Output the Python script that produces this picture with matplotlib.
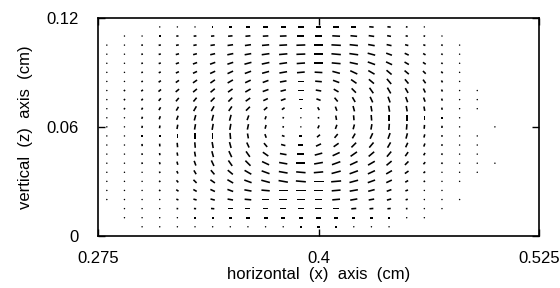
import matplotlib
matplotlib.use("Agg")
import matplotlib.pyplot as plt
import numpy as np

plt.rcParams['font.family'] = ['Liberation Sans', 'DejaVu Sans']

NA = np.nan

# grid positions (cm)
x_cols = [0.28, 0.29, 0.30, 0.31, 0.32, 0.33, 0.34, 0.35, 0.36, 0.37, 0.38, 0.39,
          0.40, 0.41, 0.42, 0.43, 0.44, 0.45, 0.46, 0.47, 0.48, 0.49, 0.50]
z_rows = [0.115, 0.110, 0.105, 0.100, 0.095, 0.090, 0.085, 0.080, 0.075, 0.070, 0.065, 0.060,
          0.055, 0.050, 0.045, 0.040, 0.035, 0.030, 0.025, 0.020, 0.015, 0.010, 0.005]

# direction of each vector on screen (deg, 0 = right, 90 = up), one row per z
angle_rows = [
    [NA, NA, NA, 0, 0, 0, 0, 0, 0, 0, 0, 0, 0, 0, 0, -5, -5, -10, -10, NA, NA, NA, NA],
    [NA, 0, 0, 0, 5, 5, 5, 5, 5, 3, 2, 0, 0, -3, -5, -8, -10, -10, -15, -20, NA, NA, NA],
    [10, 10, 10, 10, 10, 10, 8, 8, 8, 5, 3, 2, 0, -3, -6, -10, -12, -15, -20, -25, -30, NA, NA],
    [15, 15, 15, 15, 15, 15, 13, 12, 10, 8, 5, 2, 0, -5, -8, -15, -20, -25, -30, -35, -40, NA, NA],
    [20, 20, 20, 20, 20, 20, 20, 18, 15, 12, 8, 4, 0, -5, -12, -20, -25, -30, -35, -40, -45, NA, NA],
    [25, 25, 25, 25, 25, 25, 25, 25, 20, 15, 10, 5, -3, -15, -25, -30, -40, -40, -45, -50, -55, NA, NA],
    [35, 35, 35, 35, 35, 35, 35, 30, 25, 20, 10, 0, -5, -20, -35, -40, -50, -50, -55, -60, -60, NA, NA],
    [40, 40, 40, 40, 40, 40, 40, 35, 30, 20, 15, 0, -10, -30, -45, -55, -60, -60, -65, -65, -65, -70, NA],
    [50, 50, 50, 50, 50, 50, 45, 45, 35, 25, 20, 0, -20, -50, -60, -65, -70, -70, -70, -70, -75, -75, NA],
    [60, 60, 60, 60, 60, 60, 60, 55, 45, 40, 35, 0, -60, -70, -75, -80, -80, -80, -80, -80, -80, -80, NA],
    [70, 70, 70, 70, 70, 75, 75, 75, 70, 70, 60, 0, -80, -80, -85, -85, -90, -90, -90, -90, -90, NA, NA],
    [80, 80, 80, 80, 80, 80, 80, 80, 78, 75, 80, 200, 245, 250, 255, 260, 265, 265, 265, 265, 265, NA, 265],
    [90, 90, 90, 90, 90, 90, 90, 95, 100, 110, 160, 180, 220, 230, 240, 245, 250, 255, 255, 260, 260, 260, NA],
    [95, 95, 95, 95, 95, 95, 100, 105, 115, 130, 165, 180, 205, 215, 225, 230, 240, 245, 250, 250, 250, 250, NA],
    [100, 100, 100, 100, 100, 100, 105, 115, 125, 145, 170, 180, 195, 205, 215, 220, 230, 235, 240, 240, 240, 240, NA],
    [105, 105, 105, 105, 105, 110, 115, 125, 135, 155, 170, 180, 190, 200, 205, 210, 220, 225, 230, 230, 230, 230, 230],
    [115, 115, 115, 115, 115, 120, 130, 140, 150, 160, 170, 175, 185, 195, 200, 205, 210, 215, 220, 220, 220, 220, NA],
    [130, 130, 130, 130, 130, 135, 145, 150, 160, 165, 170, 175, 180, 185, 195, 200, 205, 210, 210, 210, 210, NA, NA],
    [140, 140, 140, 140, 145, 150, 155, 160, 170, 175, 180, 180, 180, 185, 190, 195, 200, 200, 200, 200, NA, NA, NA],
    [150, 150, 150, 150, 160, 165, 165, 170, 175, 180, 180, 180, 180, 185, 190, 190, 195, 195, 195, 195, 195, NA, NA],
    [NA, 170, 170, 170, 175, 175, 175, 180, 180, 180, 180, 180, 180, 180, 185, 185, 185, 185, 185, 185, NA, NA, NA],
    [NA, 180, 180, 180, 180, 180, 180, 180, 180, 180, 180, 180, 180, 180, 180, 180, 180, 180, 180, NA, NA, NA, NA],
    [NA, NA, 180, 180, 180, 180, 180, 180, 180, 180, 180, 180, 180, 180, 180, 180, 180, NA, NA, NA, NA, NA, NA],
]

# drawn length of each vector (px)
length_rows = [
    [NA, NA, NA, 1.2, 1.2, 1.2, 1.5, 2.5, 3.5, 4, 4.5, 5, 5, 5, 4.5, 4, 3, 1.5, 1.2, NA, NA, NA, NA],
    [NA, 1.2, 1.2, 1.5, 2, 2.5, 3, 4, 4.5, 5, 6, 6.5, 7, 7, 6, 5, 3.5, 2, 1.5, 1.2, NA, NA, NA],
    [1.2, 1.2, 1.5, 2, 2.5, 3, 4, 5, 5.5, 6.5, 7, 8, 8.5, 8.5, 7.5, 6, 4.5, 3, 2, 1.5, 1.2, NA, NA],
    [1.2, 1.2, 1.5, 2, 3, 3.5, 4.5, 5.5, 6, 7, 7.5, 8, 8.5, 8.5, 8, 7, 5.5, 4, 2.5, 1.5, 1.2, NA, NA],
    [1.2, 1.2, 1.5, 2, 3, 4, 5, 5.5, 6.5, 7, 7, 7.5, 8, 8, 7.5, 7, 6, 4.5, 3, 1.5, 1.2, NA, NA],
    [1.2, 1.2, 1.5, 2, 3, 4, 5, 5.5, 6, 6.5, 7, 7, 7, 7, 7, 6.5, 6, 5, 3.5, 2, 1.2, NA, NA],
    [1.2, 1.2, 1.5, 2.5, 3.5, 4.5, 5, 5.5, 5.5, 5.5, 6, 6, 6, 6, 6, 6, 6, 5, 4, 2, 1.2, NA, NA],
    [1.2, 1.5, 2, 3, 4, 4.5, 5, 5, 5.5, 5.5, 5, 5, 5, 5, 5.5, 6, 6, 5, 4, 2, 1.2, 1.2, NA],
    [1.2, 1.5, 2, 3, 4, 4.5, 5, 5, 5, 4.5, 4.5, 4, 4, 4.5, 5, 5.5, 5.5, 5, 4, 2, 1.2, 1.2, NA],
    [1.2, 1.5, 2, 3, 4, 5, 5, 5, 5, 4, 3, 2, 3, 4, 5, 5, 5.5, 5, 4, 2, 1.2, 1.2, NA],
    [1.2, 1.2, 2, 3, 4, 5, 5.5, 5.5, 4.5, 3, 1.5, 1.2, 1.5, 4, 4.5, 5, 5.5, 5, 4, 2, 1.2, NA, NA],
    [1.2, 1.2, 2, 2.5, 4, 5, 5.5, 5.5, 5, 3.5, 1.5, 1.2, 3, 4, 4.5, 5, 5.5, 5, 3.5, 2, 1.2, NA, 1.2],
    [1.2, 1.2, 2, 2.5, 4, 5, 5.5, 5.5, 4.5, 3.5, 2.5, 2.5, 3.5, 4.5, 5, 5.5, 5.5, 5, 3, 1.5, 1.2, 1.2, NA],
    [1.2, 1.2, 2, 2.5, 4, 5, 5.5, 5.5, 5, 4.5, 4, 4.5, 5, 5.5, 6, 6, 5.5, 4.5, 3, 1.5, 1.2, 1.2, NA],
    [1.2, 1.2, 1.5, 2, 3, 4.5, 5.5, 6, 6, 6, 6, 6.5, 7, 7, 7, 6.5, 6, 4.5, 2.5, 1.5, 1.2, 1.2, NA],
    [1.2, 1.2, 1.5, 2, 3, 4.5, 5.5, 6, 6.5, 7, 7.5, 8, 8, 8, 7.5, 7, 6, 4.5, 2.5, 1.5, 1.2, 1.2, 1.2],
    [1.2, 1.2, 1.2, 1.5, 2.5, 4, 5, 6, 7, 7.5, 8, 8.5, 8.5, 8.5, 8, 7, 6, 4, 2, 1.2, 1.2, 1.2, NA],
    [1.2, 1.2, 1.2, 1.5, 2.5, 4, 5, 6, 7, 8, 8.5, 9, 9, 9, 8, 7, 5.5, 3, 1.5, 1.2, 1.2, NA, NA],
    [1.2, 1.2, 1.2, 1.5, 2.5, 3.5, 4.5, 5.5, 6.5, 7.5, 8, 8.5, 8.5, 8, 7.5, 6, 4.5, 2.5, 1.2, 1.2, NA, NA, NA],
    [1.2, 1.2, 1.2, 1.2, 2, 3, 4, 5, 6, 6.5, 7, 7, 7, 7, 6.5, 5, 4, 2, 1.2, 1.2, 1.2, NA, NA],
    [NA, 1.2, 1.2, 1.2, 1.5, 2, 3, 4, 4.5, 5, 5.5, 5.5, 5.5, 5, 4.5, 3.5, 3, 1.5, 1.2, 1.2, NA, NA, NA],
    [NA, 1.2, 1.2, 1.2, 1.2, 1.5, 2, 2.5, 3, 3.5, 3.5, 4, 4, 3.5, 3, 2.5, 1.5, 1.2, 1.2, NA, NA, NA, NA],
    [NA, NA, 1.2, 1.2, 1.2, 1.2, 1.2, 1.2, 1.2, 1.2, 1.2, 1.5, 2, 1.5, 1.2, 1.2, 1.2, NA, NA, NA, NA, NA, NA],
]

x_ticks = [0.275, 0.4, 0.525]
x_ticklabels = ['0.275', '0.4', '0.525']
z_ticks = [0, 0.06, 0.12]
z_ticklabels = ['0', '0.06', '0.12']

X, Z = np.meshgrid(x_cols, z_rows)
A = np.radians(np.array(angle_rows, dtype=float))
L = np.array(length_rows, dtype=float)
U = L * np.cos(A)
W = L * np.sin(A)
ok = ~np.isnan(L)

fig = plt.figure(figsize=(5.6, 2.88), dpi=100)
ax = fig.add_axes([0.175, 0.181, 0.7875, 0.757])

ax.quiver(X[ok], Z[ok], U[ok], W[ok], angles='uv', scale_units='dots', scale=0.9,
          units='dots', width=1.6, headwidth=0, headlength=0, headaxislength=0,
          pivot='middle', color='black')

ax.set_xlim(0.275, 0.525)
ax.set_ylim(0, 0.12)
ax.set_xticks(x_ticks)
ax.set_xticklabels(x_ticklabels)
ax.set_yticks(z_ticks)
ax.set_yticklabels(z_ticklabels)
ax.tick_params(direction='in', length=5, width=1.0, top=True, right=True,
               labelsize=12, colors='black')
ax.tick_params(axis='x', pad=11)
ax.tick_params(axis='y', pad=14)
for s in ax.spines.values():
    s.set_linewidth(1.2)

ax.set_xlabel('horizontal  (x)  axis  (cm)', fontsize=12)
ax.set_ylabel('vertical  (z)  axis  (cm)', fontsize=12)
ax.xaxis.set_label_coords(0.5, -0.145)
ax.yaxis.set_label_coords(-0.148, 0.5)

fig.savefig('out.png', dpi=100)
